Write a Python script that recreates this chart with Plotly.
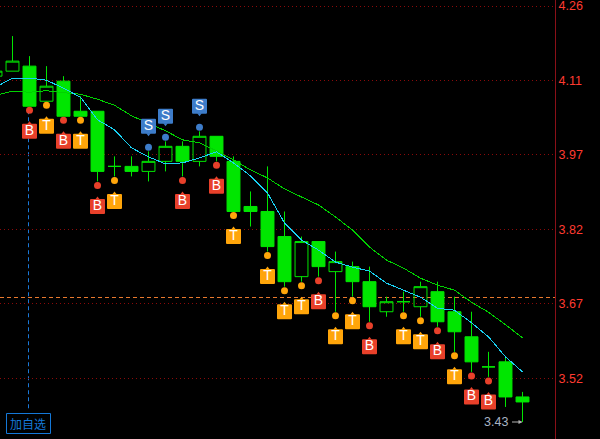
import plotly.graph_objects as go

idx = list(range(-1, 31))
opens = [4.12,4.13,4.14,4.07,4.11,4.05,4.05,3.94,3.94,3.93,3.95,3.98,3.95,4.00,3.95,3.86,3.85,3.80,3.72,3.79,3.73,3.74,3.71,3.65,3.67,3.66,3.69,3.65,3.60,3.54,3.55,3.48]
highs = [4.13,4.20,4.16,4.14,4.12,4.08,4.05,3.96,3.96,3.97,3.99,3.99,4.01,4.00,3.96,3.89,3.94,3.85,3.80,3.79,3.77,3.75,3.74,3.68,3.69,3.71,3.71,3.68,3.65,3.57,3.56,3.49]
lows = [4.12,4.13,4.06,4.07,4.04,4.04,3.91,3.92,3.92,3.91,3.93,3.92,3.94,3.95,3.85,3.82,3.77,3.70,3.71,3.72,3.65,3.68,3.63,3.64,3.65,3.64,3.62,3.57,3.53,3.52,3.46,3.43]
closes = [4.13,4.15,4.06,4.10,4.04,4.04,3.93,3.94,3.93,3.95,3.98,3.95,4.00,3.96,3.85,3.85,3.78,3.71,3.79,3.74,3.75,3.71,3.66,3.67,3.67,3.70,3.63,3.61,3.55,3.54,3.48,3.47]
ma_cyan = [4.098,4.116,4.116,4.112,4.096,4.078,4.033,4.013,3.977,3.959,3.945,3.947,3.957,3.969,3.947,3.921,3.887,3.827,3.793,3.773,3.749,3.739,3.731,3.707,3.693,3.679,3.657,3.653,3.628,3.600,3.560,3.530]
ma_green = [4.082,4.090,4.088,4.091,4.087,4.084,4.074,4.062,4.041,4.026,4.011,3.993,3.987,3.971,3.953,3.933,3.917,3.895,3.879,3.863,3.839,3.813,3.779,3.753,3.737,3.717,3.703,3.693,3.669,3.649,3.624,3.598]
buy_idx = [1,3,5,10,12,18,21,25,27,28]
take_idx = [2,4,6,13,15,16,17,19,20,23,24,26]
sell_idx = [8,9,11]
tick_vals = [4.26,4.1115,3.963,3.8145,3.666,3.5175]
tick_text = ["4.26","4.11","3.97","3.82","3.67","3.52"]
ref_price = 3.6784
last_low = 3.43

PX = 1/501.2           # price per pixel
GREEN, RED, ORANGE, BLUE = "#00E600", "#E8402A", "#FFA50A", "#3D7CC9"
y_top = 4.26 + 6*PX
y_bot = 4.26 - 433*PX
hi = dict(zip(idx, highs)); lo = dict(zip(idx, lows))

fig = go.Figure()
fig.add_trace(go.Candlestick(
    x=idx, open=opens, high=highs, low=lows, close=closes,
    increasing=dict(line=dict(color=GREEN, width=1), fillcolor="rgba(0,0,0,0)"),
    decreasing=dict(line=dict(color=GREEN, width=1), fillcolor=GREEN),
    whiskerwidth=0, showlegend=False, hoverinfo="skip"))
fig.add_trace(go.Scatter(x=idx, y=ma_green, mode="lines", line=dict(color="#00D200", width=1), hoverinfo="skip"))
fig.add_trace(go.Scatter(x=idx, y=ma_cyan, mode="lines", line=dict(color="#19D2F5", width=1), hoverinfo="skip"))

def signals(ids, color, label, up):
    sgn = 1 if up else -1
    base = [(hi[i] if up else lo[i]) for i in ids]
    dot = [b + sgn*4*PX for b in base]
    badge = [b + sgn*25*PX for b in base]
    nub = [b + sgn*17*PX for b in base]
    fig.add_trace(go.Scatter(x=ids, y=dot, mode="markers", marker=dict(color=color, size=7, line=dict(width=0)), hoverinfo="skip"))
    fig.add_trace(go.Scatter(x=ids, y=nub, mode="markers",
                             marker=dict(color=color, size=4, symbol="triangle-down" if up else "triangle-up", line=dict(width=0)), hoverinfo="skip"))
    fig.add_trace(go.Scatter(x=ids, y=badge, mode="markers+text", text=[label]*len(ids), textposition="middle center",
                             textfont=dict(color="white", size=14, family="Liberation Sans"),
                             marker=dict(color=color, size=13, symbol="square", line=dict(width=2, color=color)), hoverinfo="skip"))

signals(buy_idx, RED, "B", False)
signals(take_idx, ORANGE, "T", False)
signals(sell_idx, BLUE, "S", True)

fig.update_layout(
    width=600, height=439, autosize=False,
    margin=dict(l=0, r=45, t=0, b=0),
    paper_bgcolor="black", plot_bgcolor="black", showlegend=False,
    boxgap=0.24, boxgroupgap=0,
    xaxis=dict(range=[-12.5/17, (555-12.5)/17], visible=False, rangeslider=dict(visible=False)),
    yaxis=dict(range=[y_bot, y_top], side="right", tickmode="array", tickvals=tick_vals, ticktext=tick_text,
               showgrid=True, gridcolor="#8A0A0A", griddash="1px,3px", gridwidth=1, zeroline=False,
               showline=True, linecolor="#8A1018", linewidth=1, ticks="", ticklabeloverflow="allow",
               tickfont=dict(color="#FF3B30", size=12.5, family="Liberation Sans")),
    shapes=[
        dict(type="line", xref="paper", x0=0, x1=1, yref="y", y0=ref_price, y1=ref_price, layer="below",
             line=dict(color="#E8792E", width=1, dash="4px,3px")),
        dict(type="line", xref="x", x0=1-1/17, x1=1-1/17, yref="y", y0=lo[1]-4*PX, y1=last_low+12*PX, layer="below",
             line=dict(color="#1A78D8", width=1, dash="4px,3px")),
        dict(type="rect", xref="paper", yref="paper", x0=6.5/555, x1=50.5/555, y0=1-433.5/439, y1=1-413.5/439,
             line=dict(color="#1478D8", width=1), fillcolor="rgba(0,0,0,0)"),
    ],
    annotations=[
        dict(xref="paper", yref="paper", x=28/555, y=1-423/439, text="加自选", showarrow=False, xanchor="center", yanchor="middle",
             font=dict(color="#1478D8", size=12, family="Noto Sans CJK SC")),
        dict(xref="x", yref="y", x=30, y=last_low, ax=-12, ay=0, text="", showarrow=True, arrowhead=2, arrowsize=0.8,
             arrowwidth=1, arrowcolor="#B4B4B4"),
        dict(xref="x", yref="y", x=30, y=last_low, xshift=-13, text="3.43", showarrow=False, xanchor="right", yanchor="middle",
             font=dict(color="#A8B4C4", size=12.5, family="Liberation Sans")),
    ],
)
fig.write_html("out.html", config=dict(displayModeBar=False),
               post_script="document.body.style.margin='0';document.documentElement.style.background='black';"
                           "document.querySelectorAll('.js-line').forEach(function(e){e.style.shapeRendering='crispEdges';});"
                           "document.querySelectorAll('.point').forEach(function(e){e.style.strokeLinejoin='round';});")
